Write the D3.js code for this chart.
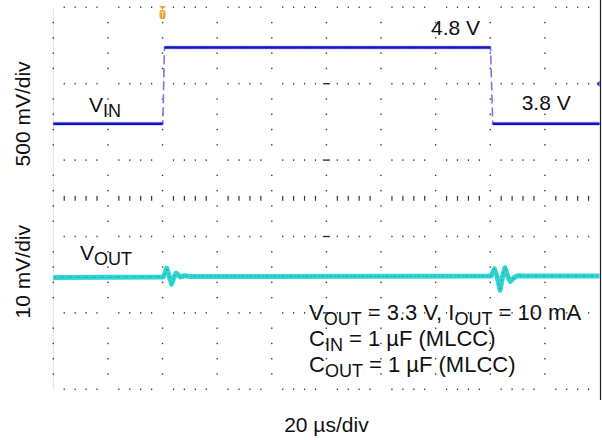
<!DOCTYPE html>
<html>
<head>
<meta charset="utf-8">
<script src="https://cdn.jsdelivr.net/npm/d3@7"></script>
<style>
  body { margin: 0; background: #fff; }
  svg { display: block; font-family: "Liberation Sans", Arial, sans-serif; }
</style>
</head>
<body>
<svg id="chart" width="602" height="440"></svg>
<script>
// ---------------------------------------------------------------------------
// Data (time in µs, VIN in V, VOUT deviation in mV)
// ---------------------------------------------------------------------------
const vinTime  = [0,   40.1, 40.7, 160.1, 160.9, 200];
const vinVolts = [3.8, 3.8,  4.8,  4.8,   3.8,   3.8];

const voutTime = [0, 20, 40.3, 40.8, 41.5, 42.5, 43.3, 44.3, 45.0, 46.5, 48, 50, 80, 120,
                  160.3, 161.5, 162.5, 163.6, 164.5, 165.4, 166.4, 167.3, 168.5, 170, 173, 200];
const voutDev  = [-0.13, -0.1, -0.05, 0.3, 1.1, 0.0, -1.0, 0.0, 0.45, -0.05, 0.1, 0.0, 0.0, 0.02,
                  0.05, 1.0, 0.0, -1.8, 0.0, 1.15, 0.0, -0.65, -0.2, 0.1, 0.05, 0.07];

const timeDomain   = [0, 200];   // 10 div x 20 µs
const majorRows    = 5;
const xLabel       = "20 \u00b5s/div";
const vinScaleLbl  = "500 mV/div";
const voutScaleLbl = "10 mV/div";
const levelLabels  = [{ text: "4.8 V", t: 138.3, v: 4.8, dy: -13 },
                      { text: "3.8 V", t: 171.5, v: 3.8, dy: -14 }];
const conditions   = [
  [["V", ""], ["OUT", "sub"], [" = 3.3 V, I", ""], ["OUT", "sub"], [" = 10 mA", ""]],
  [["C", ""], ["IN", "sub"], [" = 1 \u00b5F (MLCC)", ""]],
  [["C", ""], ["OUT", "sub"], [" = 1 \u00b5F (MLCC)", ""]]
];

// ---------------------------------------------------------------------------
const svg = d3.select("#chart");
const plotLeft = 53.3, plotRight = 599.5, plotTop = 7.3, plotBottom = 389.3;

const x = d3.scaleLinear().domain(timeDomain).range([plotLeft, plotRight]);
const yDiv = d3.scaleLinear().domain([0, majorRows]).range([plotBottom, plotTop]);
const vinY = d3.scaleLinear().domain([3.8, 4.8]).range([123.8, 47.5]);
const voutY = d3.scaleLinear().domain([0, 1]).range([276.5, 268.86]);

const grid = svg.append("g").attr("class", "grid");
const dotColor = "#3a3a3a";

// left frame (faint) and right frame (solid)
grid.append("line").attr("x1", plotLeft).attr("x2", plotLeft).attr("y1", plotTop).attr("y2", plotBottom)
  .attr("stroke", "#e2e2e2").attr("stroke-width", 1);
grid.append("line").attr("x1", 600.5).attr("x2", 600.5).attr("y1", 0).attr("y2", 400)
  .attr("stroke", "#222").attr("stroke-width", 1.2);

const xMinor = d3.range(0, 201, 4);
const yMinor = d3.range(0, majorRows + 0.001, 0.2).map(v => +v.toFixed(1));
const isMajorX = t => t % 20 === 0;
const isMajorY = v => Math.abs(v - Math.round(v)) < 1e-6;

// dotted rows
d3.range(0, majorRows + 1).forEach(r => {
  grid.selectAll(null)
    .data(xMinor.filter(t => !isMajorX(t)))
    .join("rect")
    .attr("x", t => x(t) - 0.6).attr("y", yDiv(r) - 0.8)
    .attr("width", 1.2).attr("height", 1.6)
    .attr("fill", dotColor);
});

// dotted columns
d3.range(0, 200, 20).forEach(t => {
  grid.selectAll(null)
    .data(yMinor.filter(v => !isMajorY(v)))
    .join("rect")
    .attr("x", x(t) - 0.7).attr("y", v => yDiv(v) - 0.7)
    .attr("width", 1.4).attr("height", 1.4)
    .attr("fill", dotColor);
});

// center horizontal axis with tick marks
grid.selectAll(null)
  .data(xMinor.filter(t => !isMajorX(t)))
  .join("rect")
  .attr("x", t => x(t) - 0.6).attr("y", yDiv(2.5) - 2.5)
  .attr("width", 1.2).attr("height", 5)
  .attr("fill", dotColor);

// center vertical axis dashes at major rows
grid.selectAll(null)
  .data(d3.range(1, majorRows))
  .join("rect")
  .attr("x", x(100) - 3.5).attr("y", r => yDiv(r) - 0.7)
  .attr("width", 7).attr("height", 1.4)
  .attr("fill", "#333");

// ---------------------------------------------------------------------------
// traces
const vinData = vinTime.map((t, i) => [t, vinVolts[i]]);
const vinLine = d3.line().x(d => x(d[0])).y(d => vinY(d[1]));

svg.append("path").datum(vinData).attr("d", vinLine)
  .attr("fill", "none").attr("stroke", "#7878e8").attr("stroke-width", 1.6)
  .attr("stroke-dasharray", "9,4");

const flatSegs = d3.pairs(vinData).filter(([a, b]) => a[1] === b[1]);
flatSegs.forEach(seg => {
  svg.append("path").datum(seg).attr("d", vinLine)
    .attr("fill", "none").attr("stroke", "#9a9af0").attr("stroke-width", 4).attr("opacity", 0.5);
  svg.append("path").datum(seg).attr("d", vinLine)
    .attr("fill", "none").attr("stroke", "#1414c4").attr("stroke-width", 2.4);
});

const voutData = voutTime.map((t, i) => [t, voutDev[i]]);
const voutLine = d3.line().x(d => x(d[0])).y(d => voutY(d[1]));

svg.append("path").datum(voutData).attr("d", voutLine)
  .attr("fill", "none").attr("stroke", "#2fd6d6").attr("stroke-width", 5)
  .attr("stroke-linejoin", "round");
svg.append("path").datum(voutData).attr("d", voutLine)
  .attr("fill", "none").attr("stroke", "#178f8f").attr("stroke-width", 1)
  .attr("stroke-dasharray", "2,3,1,2").attr("opacity", 0.8);

// trigger marker (orange) at top
const trig = svg.append("g").attr("transform", `translate(${x(40)},0)`);
trig.append("path").attr("d", "M-3.5,6 L3.5,6 L0,9.5 Z").attr("fill", "#f2a22c");
trig.append("rect").attr("x", -3).attr("y", 10).attr("width", 6).attr("height", 9)
  .attr("rx", 2).attr("fill", "#f2a22c");
trig.append("path").attr("d", "M-1.8,12 L1.8,12 M0,12 L0,17").attr("stroke", "#fde2b0").attr("stroke-width", 1);

// channel marker (blue) on right edge
svg.append("path").attr("d", `M${plotRight - 3},${yDiv(4)} L${plotRight},${yDiv(4) - 3} L${plotRight},${yDiv(4) + 3} Z`)
  .attr("fill", "#2a2ae0");

// ---------------------------------------------------------------------------
// labels
const fs = 21;
const subFs = 17;

function labelWithSub(main, sub, px, py) {
  const t = svg.append("text").attr("x", px).attr("y", py).attr("font-size", fs).attr("fill", "#111");
  t.append("tspan").text(main);
  t.append("tspan").text(sub).attr("font-size", subFs + 1).attr("dy", 5);
}
labelWithSub("V", "IN", 89, 112);
labelWithSub("V", "OUT", 80, 260);

levelLabels.forEach(d => {
  svg.append("text").attr("x", x(d.t)).attr("y", vinY(d.v) + d.dy)
    .attr("font-size", fs).attr("fill", "#111").text(d.text);
});

conditions.forEach((parts, i) => {
  const t = svg.append("text").attr("x", 309).attr("y", 320 + i * 26)
    .attr("font-size", 22).attr("fill", "#111");
  let shifted = false;
  parts.forEach(([s, kind]) => {
    const ts = t.append("tspan").text(s);
    if (kind === "sub") { ts.attr("font-size", 18).attr("dy", shifted ? 0 : 5); shifted = true; }
    else if (shifted) { ts.attr("dy", -5); shifted = false; }
  });
});

svg.append("text").attr("transform", `translate(30,${(yDiv(4) + yDiv(3)) / 2 - 8}) rotate(-90)`)
  .attr("text-anchor", "middle").attr("font-size", fs).attr("fill", "#111").text(vinScaleLbl);
svg.append("text").attr("transform", `translate(30,${yDiv(1.5) - 3}) rotate(-90)`)
  .attr("text-anchor", "middle").attr("font-size", fs).attr("fill", "#111").text(voutScaleLbl);

svg.append("text").attr("x", x(100)).attr("y", 431.5).attr("text-anchor", "middle")
  .attr("font-size", fs).attr("fill", "#111").text(xLabel);
</script>
</body>
</html>
